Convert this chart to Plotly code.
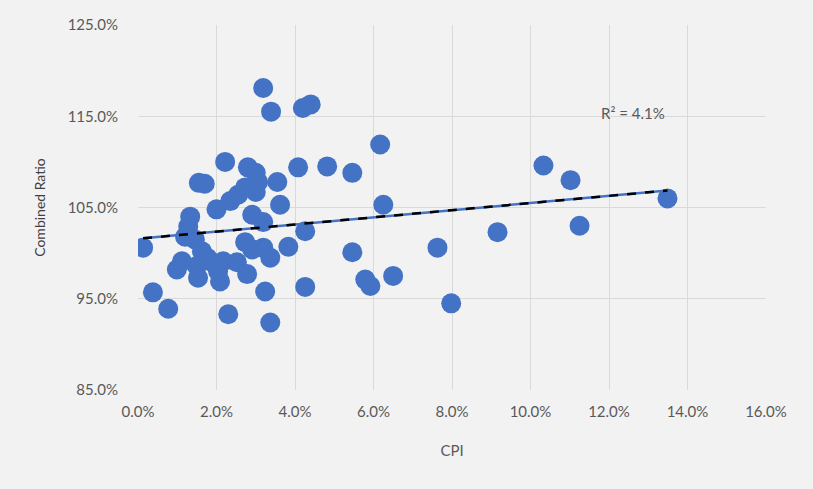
import numpy as np
import plotly.graph_objects as go

cpi = [0.13, 0.38, 0.77, 0.99, 1.12, 1.2, 1.28, 1.33, 1.45, 1.5, 1.53, 1.55, 1.63, 1.7,
       1.76, 1.89, 2.0, 2.04, 2.09, 2.17, 2.22, 2.3, 2.35, 2.52, 2.55, 2.73, 2.73, 2.78,
       2.8, 2.91, 2.91, 3.0, 3.0, 3.06, 3.19, 3.19, 3.19, 3.24, 3.37, 3.37, 3.39, 3.55,
       3.62, 3.83, 4.08, 4.2, 4.26, 4.26, 4.4, 4.82, 5.46, 5.46, 5.79, 5.92, 6.17, 6.25,
       6.5, 7.63, 7.98, 9.16, 10.33, 11.02, 11.25, 13.49]
combined_ratio = [100.6, 95.7, 93.9, 98.2, 99.1, 101.8, 102.9, 104.0, 101.5, 98.6, 97.3, 107.7,
                  100.2, 107.6, 99.5, 99.0, 104.8, 98.0, 96.9, 99.1, 110.0, 93.3, 105.7, 99.0,
                  106.4, 107.2, 101.2, 97.7, 109.4, 104.2, 100.4, 108.8, 106.7, 107.8, 118.1,
                  103.4, 100.6, 95.8, 99.5, 92.4, 115.5, 107.8, 105.3, 100.7, 109.4, 115.9,
                  102.4, 96.3, 116.3, 109.5, 108.8, 100.1, 97.1, 96.4, 111.9, 105.3, 97.5,
                  100.6, 94.5, 102.3, 109.6, 108.0, 103.0, 106.0]
r2_label = "R² = 4.1%"
x_ticks = [0, 2, 4, 6, 8, 10, 12, 14, 16]
x_ticklabels = ["0.0%", "2.0%", "4.0%", "6.0%", "8.0%", "10.0%", "12.0%", "14.0%", "16.0%"]
y_ticks = [85, 95, 105, 115, 125]
y_ticklabels = ["85.0%", "95.0%", "105.0%", "115.0%", "125.0%"]

x = np.array(cpi)
y = np.array(combined_ratio)
slope, intercept = np.polyfit(x, y, 1)
tx = np.array([x.min(), x.max()])
ty = intercept + slope * tx

BLUE = "#4472C4"
GRAY = "#595959"
FONT = "Lato"

fig = go.Figure()
fig.add_trace(go.Scatter(x=x, y=y, mode="markers",
                         marker=dict(size=20, color=BLUE, line=dict(width=0)),
                         showlegend=False, hoverinfo="skip"))
fig.add_trace(go.Scatter(x=tx, y=ty, mode="lines",
                         line=dict(color=BLUE, width=2.5), showlegend=False))
fig.add_trace(go.Scatter(x=tx, y=ty, mode="lines",
                         line=dict(color="black", width=2.5, dash="dash"), showlegend=False))

fig.add_annotation(x=12.6, y=115.4, text=r2_label, showarrow=False,
                   font=dict(family=FONT, size=15, color=GRAY))

fig.update_layout(
    width=813, height=489,
    paper_bgcolor="#F2F2F2", plot_bgcolor="#F2F2F2",
    margin=dict(l=138, r=47, t=25, b=99),
    font=dict(family=FONT, size=15, color=GRAY),
    xaxis=dict(range=[0, 16], tickvals=x_ticks, ticktext=x_ticklabels,
               showgrid=True, gridcolor="#D9D9D9", gridwidth=1, zeroline=False,
               showline=False, ticks="outside", ticklen=8, tickcolor="#F2F2F2",
               title=dict(text="CPI", font=dict(family=FONT, size=15, color=GRAY), standoff=26)),
    yaxis=dict(range=[85, 125], tickvals=y_ticks, ticktext=y_ticklabels,
               showgrid=True, gridcolor="#D9D9D9", gridwidth=1, zeroline=False,
               showline=False, ticks="outside", ticklen=16, tickcolor="#F2F2F2",
               title=dict(text="Combined Ratio", font=dict(family=FONT, size=14, color="#404040"), standoff=18)),
)

fig.write_html("out.html", config={"displayModeBar": False},
               post_script="document.body.style.margin='0';")
